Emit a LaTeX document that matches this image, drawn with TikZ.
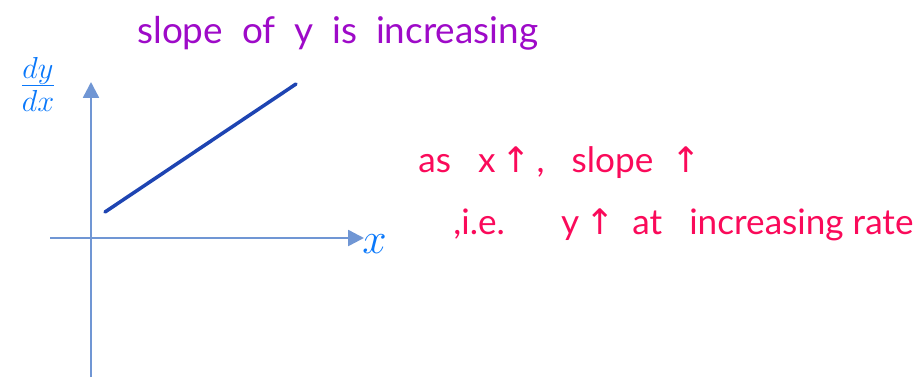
\documentclass[tikz,border=0pt]{standalone}
\usepackage{fontspec}
\setmainfont{Lato}
\newfontfamily\symfont{DejaVu Sans}
\usetikzlibrary{arrows.meta,positioning}
\definecolor{axisblue}{RGB}{112,150,212}
\definecolor{lineblue}{RGB}{30,68,178}
\definecolor{labelblue}{RGB}{10,120,250}
\definecolor{notepurple}{RGB}{158,10,200}
\definecolor{notered}{RGB}{250,10,90}
\newcommand{\upar}{{\symfont\char"2191}}

\begin{document}
\begin{tikzpicture}[
  x=0.02cm, y=-0.02cm,
  axis/.style={draw=axisblue, line width=1.4pt, -{Triangle[length=9pt,width=9pt]}},
  graphline/.style={draw=lineblue, line width=2pt, line cap=round},
  lbl/.style={text=labelblue, font=\fontsize{26}{28}\selectfont, inner sep=0pt},
  note/.style={anchor=west, inner sep=0pt, font=\fontsize{20}{24}\selectfont},
]
\useasboundingbox (0,0) rectangle (919,380);
\coordinate (yb) at (91,377);
\coordinate (yt) at (91,82);
\coordinate (xl) at (50,238);
\coordinate (xr) at (364,238);
\coordinate (g1) at (105,212);
\coordinate (g2) at (296,84);
\draw[axis] (yb) -- (yt);
\draw[axis] (xl) -- (xr);
\draw[graphline] (g1) -- (g2);
\node[lbl] (dydx) at (38,84) {$\frac{dy}{dx}$};
\node[lbl, anchor=west] (xlab) at (362,244) {$x$};
\node[note, text=notepurple, font=\fontsize{21}{25}\selectfont] (title) at (137,33) {slope \ of \ y \ is \ increasing};
\node[note, text=notered] (n1) at (418,163) {as \ \ x\,\upar\,, \ \ slope \ \upar};
\node[note, text=notered] (n2) at (453,225) {,i.e. \quad\ y\,\upar \ \ at \ \ increasing rate};
\end{tikzpicture}
\end{document}
